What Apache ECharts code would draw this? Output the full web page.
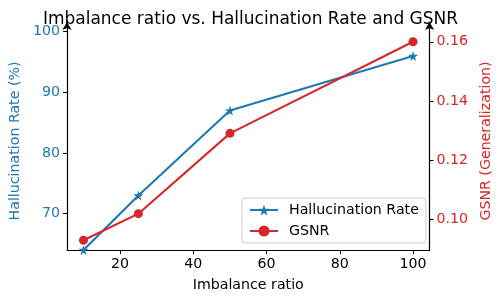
<!DOCTYPE html>
<html><head><meta charset="utf-8">
<script src="https://cdn.jsdelivr.net/npm/echarts@6/dist/echarts.min.js"></script>
<style>html,body{margin:0;padding:0;background:#fff}#c{width:501px;height:304px}</style>
</head><body><div id="c"></div>
<script>
const ratios = [10, 25, 50, 100];
const hallucinationRate = [64, 73, 87, 96];
const gsnr = [0.0928, 0.1018, 0.129, 0.160];
const xTicks = [20, 40, 60, 80, 100];
const leftTicks = [70, 80, 90, 100];
const rightTicks = [0.10, 0.12, 0.14, 0.16];

const BLUE = '#1f77b4', RED = '#d62728';
const FONT = 'DejaVu Sans';
const FS = 14.2;
const star = 'path://M50,0 L61,35 L98,35 L68,57 L79,91 L50,70 L21,91 L32,57 L2,35 L39,35 Z';

const chart = echarts.init(document.getElementById('c'), null, {renderer: 'canvas'});
chart.setOption({
  animation: false,
  textStyle: {fontFamily: FONT},
  title: {
    text: 'Imbalance ratio vs. Hallucination Rate and GSNR',
    left: 'center', top: 6,
    textStyle: {fontFamily: FONT, fontSize: 17, fontWeight: 'normal', color: '#000'}
  },
  grid: {left: 67, right: 71, top: 22, bottom: 54},
  legend: {
    orient: 'vertical', left: 242, top: 198,
    padding: [5, 7, 5, 7], itemGap: 7,
    itemWidth: 28, itemHeight: 14,
    backgroundColor: '#fff', borderColor: '#ccc', borderWidth: 1, borderRadius: 3,
    textStyle: {fontFamily: FONT, fontSize: FS, color: '#000', padding: [0, 0, 0, 6]},
    data: ['Hallucination Rate', 'GSNR']
  },
  xAxis: {
    type: 'value', min: 5.5, max: 104.5,
    name: 'Imbalance ratio', nameLocation: 'middle', nameGap: 28,
    nameTextStyle: {fontFamily: FONT, fontSize: FS, color: '#000'},
    axisLine: {lineStyle: {color: '#000', width: 1.2}},
    axisTick: {customValues: xTicks, length: 4, lineStyle: {color: '#000'}},
    axisLabel: {customValues: xTicks, fontFamily: FONT, fontSize: FS, color: '#000', margin: 7},
    splitLine: {show: false}
  },
  yAxis: [{
    type: 'value', min: 64, max: 101.6, position: 'left',
    name: 'Hallucination Rate (%)', nameLocation: 'middle', nameGap: 43,
    nameTextStyle: {fontFamily: FONT, fontSize: FS, color: BLUE, padding: [0, 10, 0, 0]},
    axisLine: {show: true, symbol: ['none', 'arrow'], symbolSize: [7, 8],
      lineStyle: {color: '#000', width: 1.2}},
    axisTick: {show: true, customValues: leftTicks, length: 4, lineStyle: {color: '#000'}},
    axisLabel: {customValues: leftTicks, fontFamily: FONT, fontSize: FS, color: BLUE, margin: 7},
    splitLine: {show: false}
  }, {
    type: 'value', min: 0.0895, max: 0.1667, position: 'right',
    name: 'GSNR (Generalization)', nameLocation: 'middle', nameGap: 46,
    nameTextStyle: {fontFamily: FONT, fontSize: FS, color: RED, padding: [0, 10, 0, 0]},
    axisLine: {show: true, symbol: ['none', 'arrow'], symbolSize: [7, 8],
      lineStyle: {color: '#000', width: 1.2}},
    axisTick: {show: true, customValues: rightTicks, length: 4, lineStyle: {color: '#000'}},
    axisLabel: {customValues: rightTicks, fontFamily: FONT, fontSize: FS, color: RED, margin: 7,
      formatter: v => v.toFixed(2)},
    splitLine: {show: false}
  }],
  series: [{
    name: 'Hallucination Rate', type: 'line', yAxisIndex: 0,
    data: ratios.map((x, i) => [x, hallucinationRate[i]]),
    symbol: star, symbolSize: 10,
    lineStyle: {color: BLUE, width: 2.1}, itemStyle: {color: BLUE},
    clip: true
  }, {
    name: 'GSNR', type: 'line', yAxisIndex: 1,
    data: ratios.map((x, i) => [x, gsnr[i]]),
    symbol: 'circle', symbolSize: 9,
    lineStyle: {color: RED, width: 2.1}, itemStyle: {color: RED},
    clip: false
  }]
});
</script></body></html>
